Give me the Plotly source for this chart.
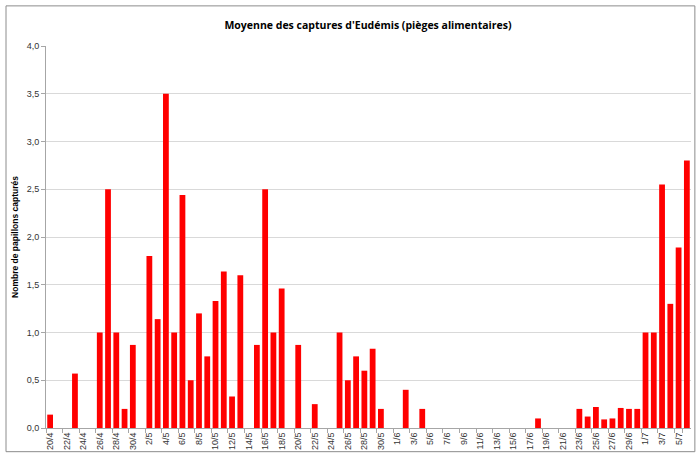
import datetime as dt
import plotly.graph_objects as go

start = dt.date(2014, 4, 20)
n_days = 78
dates = [f"{(start + dt.timedelta(days=i)).day}/{(start + dt.timedelta(days=i)).month}" for i in range(n_days)]

captures = {
    "20/4": 0.14, "23/4": 0.57, "26/4": 1.0, "27/4": 2.5, "28/4": 1.0, "29/4": 0.2, "30/4": 0.87,
    "2/5": 1.8, "3/5": 1.14, "4/5": 3.5, "5/5": 1.0, "6/5": 2.44, "7/5": 0.5, "8/5": 1.2,
    "9/5": 0.75, "10/5": 1.33, "11/5": 1.64, "12/5": 0.33, "13/5": 1.6, "15/5": 0.87,
    "16/5": 2.5, "17/5": 1.0, "18/5": 1.46, "20/5": 0.87, "22/5": 0.25, "25/5": 1.0,
    "26/5": 0.5, "27/5": 0.75, "28/5": 0.6, "29/5": 0.83, "30/5": 0.2, "2/6": 0.4, "4/6": 0.2,
    "18/6": 0.1, "23/6": 0.2, "24/6": 0.12, "25/6": 0.22, "26/6": 0.09, "27/6": 0.1,
    "28/6": 0.21, "29/6": 0.2, "30/6": 0.2, "1/7": 1.0, "2/7": 1.0, "3/7": 2.55,
    "4/7": 1.3, "5/7": 1.89, "6/7": 2.8,
}
values = [captures.get(d, 0) for d in dates]
tick_labels = dates[::2]

fig = go.Figure(go.Bar(x=dates, y=values, marker=dict(color="#ff0000", line=dict(width=0)),
                       hoverinfo="x+y"))

fig.update_layout(
    width=697, height=455,
    margin=dict(l=46, r=6, t=46, b=27, autoexpand=False),
    paper_bgcolor="white", plot_bgcolor="white",
    separators=", ",
    bargap=0.3,
    showlegend=False,
    font=dict(family="Liberation Sans", color="#000000"),
    title=dict(text="<b>Moyenne des captures d'Eudémis (pièges alimentaires)</b>",
               x=0.528, xanchor="center", y=0.945, yanchor="middle",
               font=dict(size=10.5, family="Open Sans, Liberation Sans")),
    shapes=[dict(type="rect", xref="paper", yref="paper", x0=-0.062, x1=1.006, y0=-0.062, y1=1.105,
                 line=dict(color="#8c8c8c", width=1), layer="below")],
)
fig.update_xaxes(
    type="category", categoryorder="array", categoryarray=dates,
    tickmode="array", tickvals=tick_labels, ticktext=tick_labels,
    tickangle=-90, tickfont=dict(size=9, color="#333333"),
    showline=True, linecolor="#a6a6a6", linewidth=1,
    ticks="outside", ticklen=4, tickcolor="#a6a6a6", tickson="boundaries",
    showgrid=False, range=[-0.5, n_days - 0.5], automargin=False,
)
fig.update_yaxes(
    range=[0, 4.0], dtick=0.5, tickformat=".1f", tickfont=dict(size=9, color="#333333"),
    showgrid=True, gridcolor="#d9d9d9", gridwidth=1,
    showline=True, linecolor="#a6a6a6", linewidth=1,
    ticks="outside", ticklen=4, tickcolor="#a6a6a6",
    zeroline=False, automargin=False,
    title=dict(text="<b>Nombre de papillons capturés</b>", font=dict(size=8.5), standoff=6),
)

fig.write_html("out.html", config={"displayModeBar": False},
               post_script="document.body.style.margin='0';document.body.style.overflow='hidden';")
